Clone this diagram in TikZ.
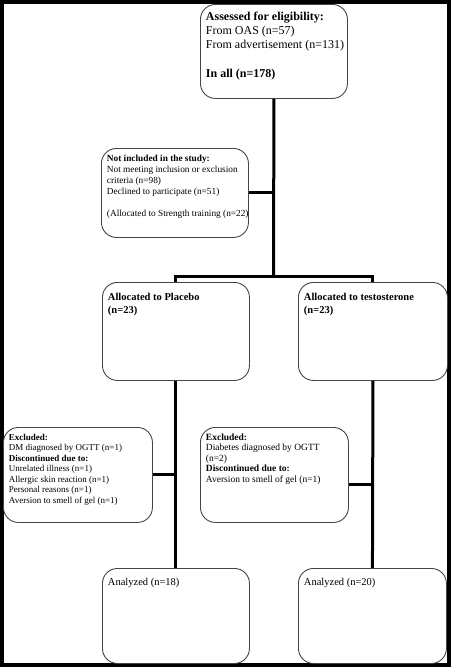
\documentclass[tikz,border=0pt]{standalone}
\usepackage{fontspec}
\setmainfont{Liberation Serif}
\usepackage{tikz}
\usepackage{xcolor}
\definecolor{edgegrey}{RGB}{70,70,70}
\newcommand{\drawbigbox}{\node[flowbox, font=\fontsize{12}{14}\selectfont]}
\newcommand{\drawmidbox}{\node[flowbox, font=\fontsize{10.5}{13}\selectfont]}
\newcommand{\drawsmallbox}{\node[flowbox, font=\fontsize{9.5}{10.5}\selectfont]}
\newcommand{\drawtinybox}{\node[flowbox, font=\fontsize{9}{10.5}\selectfont]}
\newcommand{\boxtext}[4]{\parbox[t][#2pt][t]{#1pt}{\rule{0pt}{#3pt}\begin{tabular}[t]{@{}l@{}}#4\end{tabular}}}
\tikzset{
  flowbox/.style={draw=edgegrey, line width=0.9pt, rounded corners=15pt, anchor=north west, inner xsep=5.5pt, inner ysep=0pt},
  link/.style={line width=3pt},
  frame/.style={line width=4pt}
}

\begin{document}
\begin{tikzpicture}[x=1pt, y=-1pt]
\useasboundingbox (0,0) rectangle (451,667);
\draw[frame] (2,2) rectangle (449,665);

%screening
\drawbigbox (assess) at (200,4) {\boxtext{136}{94}{16}{\textbf{Assessed for eligibility:}\\From OAS (n=57)\\From advertisement (n=131)\\[15pt]\textbf{In all (n=178)}}};
\drawsmallbox[font=\fontsize{9.3}{11}\selectfont] (notincl) at (101,148) {\boxtext{136}{89}{13}{\textbf{Not included in the study:}\\Not meeting inclusion or exclusion\\criteria (n=98)\\Declined to participate (n=51)\\[11pt](Allocated to Strength training (n=22)}};

%allocation
\drawmidbox (placebo) at (102,282) {\boxtext{136}{98}{18}{\textbf{Allocated to Placebo}\\\textbf{(n=23)}}};
\drawmidbox (testo) at (298,282) {\boxtext{138}{98}{18}{\textbf{Allocated to testosterone}\\\textbf{(n=23)}}};

%follow-up
\drawtinybox (exclL) at (3,427) {\boxtext{138}{95}{13}{\textbf{Excluded:}\\DM diagnosed by OGTT (n=1)\\\textbf{Discontinued due to:}\\Unrelated illness (n=1)\\Allergic skin reaction (n=1)\\Personal reasons (n=1)\\Aversion to smell of gel (n=1)}};
\drawsmallbox (exclR) at (200,427) {\boxtext{137}{95}{13}{\textbf{Excluded:}\\Diabetes diagnosed by OGTT\\(n=2)\\\textbf{Discontinued due to:}\\Aversion to smell of gel (n=1)}};

%analysis
\drawmidbox (anL) at (102,568) {\boxtext{136}{95}{17}{Analyzed (n=18)}};
\drawmidbox (anR) at (298,568) {\boxtext{137}{95}{17}{Analyzed (n=20)}};

\coordinate (split) at (273.5,276);
\draw[link] (assess.south) -- (split);
\draw[link] (notincl.east) -- (notincl.east -| split);
\draw[link] (placebo.north) |- (split) -| (testo.north);
\draw[link] (placebo.south) -- (anL.north);
\draw[link] (testo.south) -- (anR.north);
\draw[link] (exclL.east) -- (exclL.east -| placebo.south);
\draw[link] ([yshift=-10pt]exclR.east) -- ([yshift=-10pt]exclR.east -| testo.south);
\end{tikzpicture}
\end{document}
